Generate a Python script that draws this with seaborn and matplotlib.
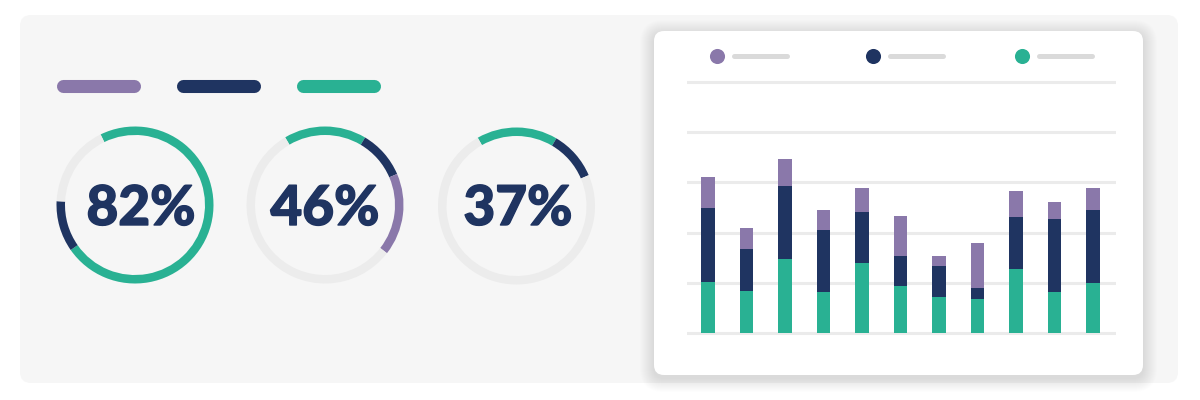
import numpy as np
import pandas as pd
import matplotlib
matplotlib.use("Agg")
import matplotlib.pyplot as plt
import matplotlib.patheffects as pe
from matplotlib.patches import FancyBboxPatch
import seaborn as sns

sns.set_theme(style="white")
plt.rcParams["font.family"] = ["Lato", "DejaVu Sans"]

PURPLE = "#8a78aa"
NAVY = "#1f3461"
TEAL = "#29b193"
RING = "#ececec"
GRID = "#ebebeb"
PANEL = "#f6f6f6"
PLACEHOLDER = "#dadada"

# ── data ──────────────────────────────────────────────────────
donut_labels = ["82%", "46%", "37%"]
donut_teal = [72.5, 17.0, 16.7]
donut_navy = [10.5, 10.0, 10.1]
donut_purple = [0.0, 17.0, 0.0]
donut_start = [-26.0, -30.5, -29.6]   # where teal begins, deg clockwise from 12 o'clock

bar_cats = [f"B{i}" for i in range(1, 12)]
bar_teal = [20.5, 16.6, 29.6, 16.5, 27.8, 18.6, 14.5, 13.7, 25.6, 16.2, 19.8]
bar_navy = [29.5, 16.9, 29.0, 24.6, 20.5, 11.9, 12.0, 4.4, 20.7, 29.2, 29.3]
bar_purple = [12.3, 8.4, 10.8, 7.8, 9.4, 16.1, 4.0, 17.9, 10.2, 6.9, 8.6]

series_colors = [PURPLE, NAVY, TEAL]

# ── figure / background (pixel coordinates) ───────────────────
W, H = 1200, 400
fig = plt.figure(figsize=(W / 100, H / 100), dpi=100)
fig.patch.set_facecolor("white")

bg = fig.add_axes([0, 0, 1, 1])
bg.set_xlim(0, W)
bg.set_ylim(H, 0)
bg.axis("off")

bg.add_patch(FancyBboxPatch((20, 15), 1158, 368,
                            boxstyle="round,pad=0,rounding_size=11",
                            fc=PANEL, ec="none", zorder=1))

# card shadow + card (soft, slightly below)
for k in range(14, 0, -1):
    bg.add_patch(FancyBboxPatch((654 - k, 31 - k + 3), 489 + 2 * k, 344 + 2 * k,
                                boxstyle=f"round,pad=0,rounding_size={10 + k}",
                                fc="#000000", ec="none", alpha=0.006, zorder=2))
bg.add_patch(FancyBboxPatch((654, 31), 489, 344,
                            boxstyle="round,pad=0,rounding_size=10",
                            fc="white", ec="none", zorder=3))

# top-left legend pills
for i, c in enumerate(series_colors):
    x0 = 56 + i * 120
    bg.plot([x0 + 6.5, x0 + 84 - 6.5], [86, 86], color=c, lw=9.4,
            solid_capstyle="round", zorder=4)

# card legend: dots + placeholder labels
for i, c in enumerate(series_colors):
    dx = [717, 873, 1022][i]
    bg.scatter([dx], [56], s=118, color=c, linewidths=0, zorder=5)
    bg.plot([dx + 17, dx + 70], [56, 56], color=PLACEHOLDER, lw=3.6,
            solid_capstyle="round", zorder=5)

# ── donuts ────────────────────────────────────────────────────
centers = [(135, 205), (325, 205), (516.5, 206)]
text_pos = [(141, 225), (325, 225), (518, 225)]
R, RW = 78.5, 8.5
for i, (cx, cy) in enumerate(centers):
    ax = fig.add_axes([(cx - 85) / W, (H - cy - 85) / H, 170 / W, 170 / H])
    vals = [donut_teal[i], donut_navy[i], donut_purple[i]]
    rest = 100 - sum(vals)
    ax.pie(vals + [rest], colors=[TEAL, NAVY, PURPLE, RING],
           startangle=90 - donut_start[i], counterclock=False, radius=R,
           wedgeprops=dict(width=RW, linewidth=0))
    ax.set_xlim(-85, 85)
    ax.set_ylim(-85, 85)
    ax.set_aspect("equal")
    ax.axis("off")
    tx, ty = text_pos[i]
    bg.text(tx, ty, donut_labels[i], ha="center", va="baseline",
            fontsize=39.5, fontweight="black", color=NAVY, zorder=6,
            path_effects=[pe.withStroke(linewidth=1.0, foreground=NAVY)])

# ── stacked bar chart ─────────────────────────────────────────
df = pd.DataFrame({"cat": bar_cats, "teal": bar_teal,
                   "navy": bar_navy, "purple": bar_purple})
df["mid"] = df["teal"] + df["navy"]
df["top"] = df["mid"] + df["purple"]

axb = fig.add_axes([687 / W, (H - 338) / H, (1116 - 687) / W, 261 / H])
axb.patch.set_alpha(0)
for col, c in [("top", PURPLE), ("mid", NAVY), ("teal", TEAL)]:
    sns.barplot(data=df, x="cat", y=col, color=c, width=0.345, saturation=1,
                errorbar=None, linewidth=0, ax=axb)
axb.set_xlim(-0.545, 10.6)
axb.set_ylim(-2, 102)
axb.set_yticks([0, 20, 40, 60, 80, 100])
axb.grid(axis="y", color=GRID, lw=2.2)
axb.set_axisbelow(True)
axb.tick_params(left=False, bottom=False, labelleft=False, labelbottom=False)
axb.set_xlabel("")
axb.set_ylabel("")
for s in axb.spines.values():
    s.set_visible(False)

plt.savefig("out.png", dpi=100, facecolor=fig.get_facecolor())
plt.close()
